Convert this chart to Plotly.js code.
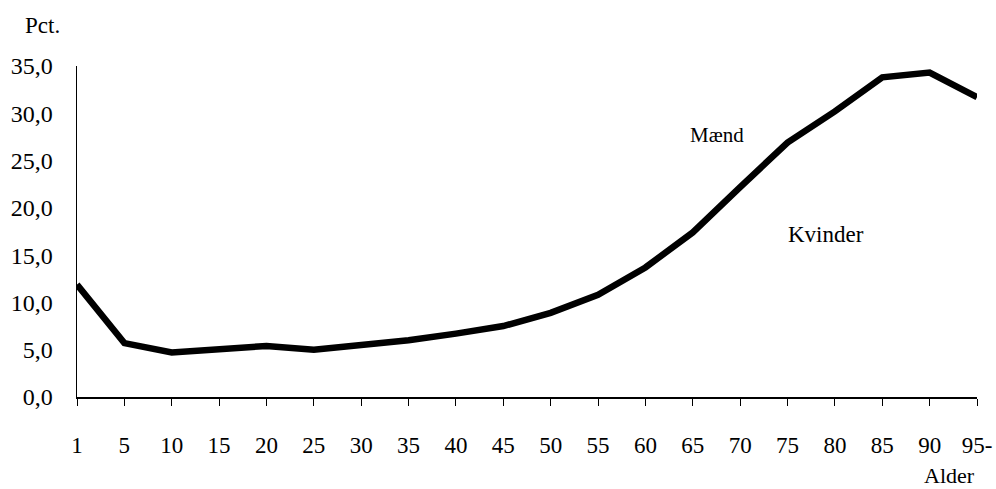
<!DOCTYPE html>
<html>
<head>
<meta charset="utf-8">
<script src="https://cdn.plot.ly/plotly-3.0.1.min.js"></script>
<style>html,body{margin:0;padding:0;background:#fff;}#chart{width:996px;height:489px;}</style>
</head>
<body>
<div id="chart"></div>
<script>
var ageCategories = ["1","5","10","15","20","25","30","35","40","45","50","55","60","65","70","75","80","85","90","95-"];
var maendValues = [11.9, 5.7, 4.7, 5.0, 5.4, 5.0, 5.5, 6.0, 6.7, 7.5, 8.9, 10.8, 13.7, 17.4, 22.2, 26.9, 30.2, 33.8, 34.3, 31.7];
var yTickValues = [0, 5, 10, 15, 20, 25, 30, 35];
var seriesLabels = ["Mænd", "Kvinder"];

var serif = "Liberation Serif, Times New Roman, serif";

var trace = {
  x: ageCategories,
  y: maendValues,
  type: "scatter",
  mode: "lines",
  name: seriesLabels[0],
  line: {color: "#000", width: 6.5, shape: "linear"},
  hoverinfo: "skip"
};

var layout = {
  width: 996, height: 489,
  margin: {l: 77, r: 19, t: 66, b: 92},
  paper_bgcolor: "#fff", plot_bgcolor: "#fff",
  showlegend: false,
  separators: ", ",
  font: {family: serif, color: "#000", size: 22},
  xaxis: {
    type: "category",
    range: [0, 19],
    showgrid: false, zeroline: false,
    showline: true, linecolor: "#000", linewidth: 1.5,
    ticks: "outside", ticklen: 7, tickwidth: 1, tickcolor: "#000",
    ticklabelstandoff: 20,
    tickfont: {family: serif, size: 23, color: "#000"},
    fixedrange: true
  },
  yaxis: {
    range: [0, 35],
    tickvals: yTickValues,
    tickformat: ".1f",
    showgrid: false, zeroline: false,
    showline: true, linecolor: "#000", linewidth: 1.5,
    ticks: "", ticklabelstandoff: 18,
    tickfont: {family: serif, size: 24, color: "#000"},
    fixedrange: true
  },
  annotations: [
    {text: "Pct.", xref: "paper", yref: "paper", x: -0.06, y: 1.0, yshift: 41, xanchor: "left", yanchor: "middle", showarrow: false, font: {family: serif, size: 23, color: "#000"}},
    {text: "Alder", xref: "paper", yref: "paper", x: 1.0, y: 0, yshift: -78, xanchor: "right", yanchor: "middle", showarrow: false, font: {family: serif, size: 22, color: "#000"}},
    {text: seriesLabels[0], xref: "x", yref: "y", x: 14, y: 27.7, xshift: -23, xanchor: "center", yanchor: "middle", showarrow: false, font: {family: serif, size: 21, color: "#000"}},
    {text: seriesLabels[1], xref: "x", yref: "y", x: 15, y: 17.2, xshift: 38, xanchor: "center", yanchor: "middle", showarrow: false, font: {family: serif, size: 23, color: "#000"}}
  ]
};

Plotly.newPlot("chart", [trace], layout, {displayModeBar: false, staticPlot: true});
</script>
</body>
</html>
